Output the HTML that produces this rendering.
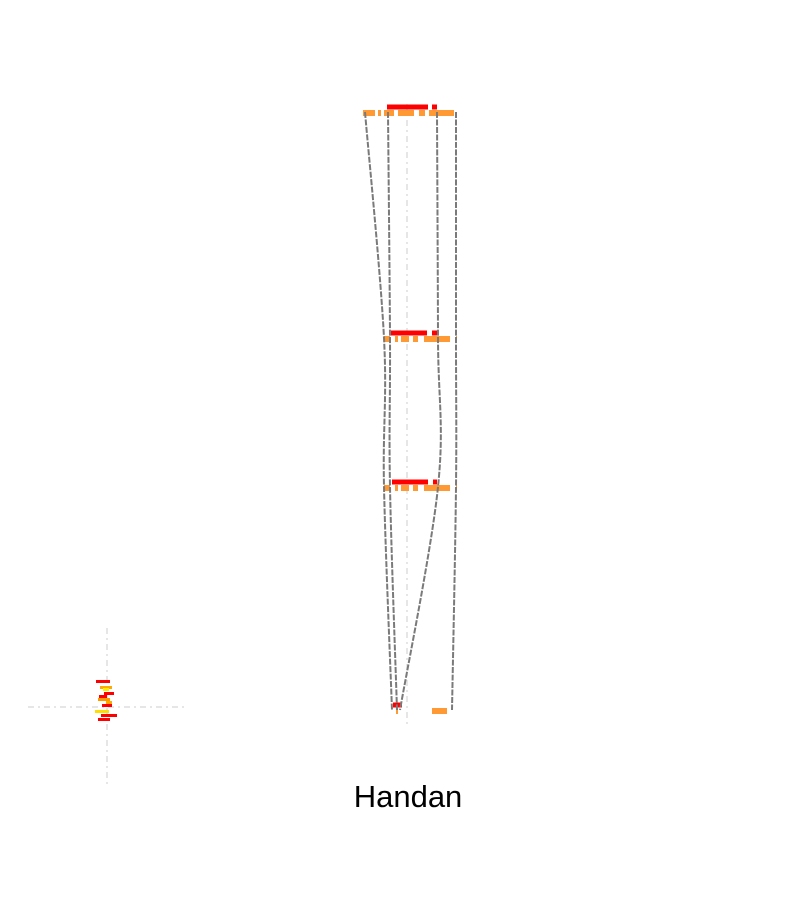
<!DOCTYPE html>
<html><head><meta charset="utf-8"><style>
html,body{margin:0;padding:0;background:#fff;width:800px;height:900px;overflow:hidden}
svg{display:block}
</style></head><body>
<svg id="chart" width="800" height="900" viewBox="0 0 800 900" xmlns="http://www.w3.org/2000/svg">
<line x1="407" y1="104" x2="407" y2="724" stroke="#ddd" stroke-width="1.5" stroke-dasharray="6,4,2,4"/>
<g id="bars"></g>
<g id="lines"></g>
<g>
<line x1="28" y1="707" x2="188" y2="707" stroke="#ddd" stroke-width="1.5" stroke-dasharray="6,4,2,4"/>
<line x1="107" y1="628" x2="107" y2="788" stroke="#ddd" stroke-width="1.5" stroke-dasharray="6,4,2,4"/>
<g id="glyph"></g>
</g>
<text x="408" y="807" text-anchor="middle" font-family="Liberation Sans, sans-serif" font-size="31" fill="#000">Handan</text>
</svg>
<script>
// data (levels in value units; x as offsets from center)
const levels = ['L1','L2','L3','L4'];
const levelValues = [100, 62.2, 37.3, 0];
const seriesA = [-42, -23, -23, -15];
const seriesB = [-19, -17, -17, -10];
const seriesC = [30, 31, 31, -7];
const seriesD = [49, 49, 49, 45];
const orangeStart = [-44, -23, -23, -11];
const orangeEnd = [50, 50, 50, 43];
const redStart = [-20, -16, -15, -14];
const redEnd = [30, 30, 30, -5];

const yScale = v => 710 - v * 5.98;
const xScale = d => 407 + d;
const NS = 'http://www.w3.org/2000/svg';
const bars = document.getElementById('bars');
const lines = document.getElementById('lines');

levels.forEach((lv, i) => {
  const y = yScale(levelValues[i]);
  const o = document.createElementNS(NS, 'line');
  
  
  o.setAttribute('x1', xScale(orangeStart[i])); o.setAttribute('x2', xScale(orangeEnd[i]));
  o.setAttribute('y1', y + 1); o.setAttribute('y2', y + 1);
  o.setAttribute('stroke', '#ff9933'); o.setAttribute('stroke-width', 6);
  o.setAttribute('stroke-dasharray', i === 0 ? '12,3,3,3,10,4,16,5,6,4,25' : (i === 3 ? '2,34,15,3,2,100' : '6,5,3,3,8,4,5,6,26'));
  bars.appendChild(o);
  const r = document.createElementNS(NS, 'line');
  
  
  r.setAttribute('x1', xScale(redStart[i])); r.setAttribute('x2', xScale(redEnd[i]));
  r.setAttribute('y1', y - 5); r.setAttribute('y2', y - 5);
  r.setAttribute('stroke', '#ff0000'); r.setAttribute('stroke-width', 5);
  r.setAttribute('stroke-dasharray', i === 3 ? '' : (i === 0 ? '41,4,5' : '36,5,5'));
  bars.appendChild(r);
});

function smoothPath(pts) {
  let d = 'M' + pts[0][0] + ',' + pts[0][1];
  for (let i = 0; i < pts.length - 1; i++) {
    const p0 = pts[i - 1] || pts[i], p1 = pts[i], p2 = pts[i + 1], p3 = pts[i + 2] || p2;
    const c1x = p1[0] + (p2[0] - p0[0]) / 6, c1y = p1[1] + (p2[1] - p0[1]) / 6;
    const c2x = p2[0] - (p3[0] - p1[0]) / 6, c2y = p2[1] - (p3[1] - p1[1]) / 6;
    d += ' C' + c1x + ',' + c1y + ' ' + c2x + ',' + c2y + ' ' + p2[0] + ',' + p2[1];
  }
  return d;
}
[['series-a', seriesA], ['series-b', seriesB], ['series-c', seriesC], ['series-d', seriesD]].forEach(([n, s]) => {
  const pts = s.map((v, i) => [xScale(v), yScale(levelValues[i])]);
  const p = document.createElementNS(NS, 'path');
  
  
  p.setAttribute('d', smoothPath(pts));
  p.setAttribute('fill', 'none'); p.setAttribute('stroke', '#7a7a7a');
  p.setAttribute('stroke-width', 2); p.setAttribute('stroke-dasharray', '6,1.5');
  lines.appendChild(p);
});

// mini glyph pieces
const glyphX = [96, 100, 104, 98, 102, 95, 101, 98, 103, 99, 106];
const glyphY = [680, 686, 692, 698, 704, 710, 714, 718, 688, 695, 701];
const glyphW = [14, 12, 10, 12, 10, 14, 16, 12, 6, 8, 6];
const glyphC = ['#ff0000', '#ffaa00', '#ff0000', '#ff9900', '#ff0000', '#ffdd00', '#ff0000', '#ff0000', '#ffee00', '#ff0000', '#ffaa00'];
const g = document.getElementById('glyph');
glyphX.forEach((x, i) => {
  const r = document.createElementNS(NS, 'rect');
  
  
  r.setAttribute('x', x); r.setAttribute('y', glyphY[i]);
  r.setAttribute('width', glyphW[i]); r.setAttribute('height', 3);
  r.setAttribute('fill', glyphC[i]);
  g.appendChild(r);
});
</script>
</body></html>
